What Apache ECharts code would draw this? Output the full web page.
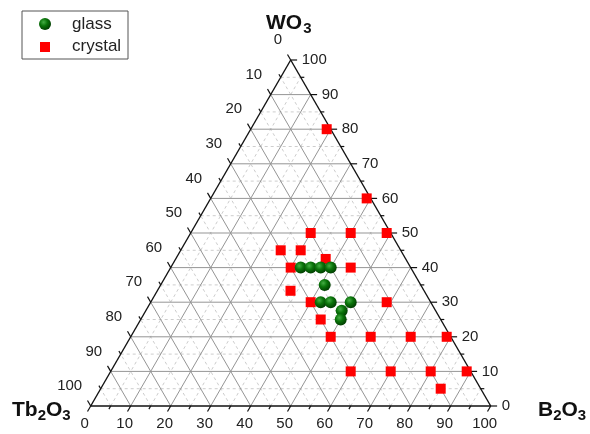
<!DOCTYPE html>
<html><head><meta charset="utf-8">
<script src="https://cdn.jsdelivr.net/npm/echarts@6/dist/echarts.min.js"></script>
<style>html,body{margin:0;padding:0;background:#fff}#c{width:590px;height:434px}</style>
</head><body><div id="c"></div>
<script>
// Ternary axis ticks (percent)
const tickValues = [0, 10, 20, 30, 40, 50, 60, 70, 80, 90, 100];
const minorValues = [5, 15, 25, 35, 45, 55, 65, 75, 85, 95];
// Compositions (mol%): B2O3 and WO3; Tb2O3 = 100 - B2O3 - WO3
const glassB2O3 = [32.5, 35, 37.5, 40, 41, 42.5, 45, 50, 49, 50];
const glassWO3  = [40,   40, 40,   40, 35, 30,   30, 30, 27.5, 25];
const crystalB2O3 = [19, 39, 30, 40, 49, 25, 30, 37.5, 30, 45, 33.3, 40, 59, 45, 50, 60, 70, 79, 60, 70, 80, 89, 85];
const crystalWO3  = [80, 60, 50, 50, 50, 45, 45, 42.5, 40, 40, 33.3, 30, 30, 25, 20, 20, 20, 20, 10, 10, 10, 10, 5];

// ternary (B2O3, WO3) -> cartesian data coordinates
function tern(b, w) { return [b + w / 2, w]; }

const FONT = 'Arial, "Liberation Sans", sans-serif';
const majorStyle = { stroke: '#959595', lineWidth: 1 };
const minorStyle = { stroke: '#cdcdcd', lineWidth: 1, lineDash: [3, 3] };
const edgeStyle = { stroke: '#111', lineWidth: 1.4 };
const tickStyle = { stroke: '#111', lineWidth: 1.2 };

function renderFrame(params, api) {
  const c = (b, w) => api.coord(tern(b, w));
  const ch = [];
  const seg = (p, q, style) => ch.push({ type: 'line', shape: { x1: p[0], y1: p[1], x2: q[0], y2: q[1] }, style: style });
  const txt = (p, dx, dy, s, align) => ch.push({ type: 'text', style: { x: p[0] + dx, y: p[1] + dy, text: String(s), font: '15px ' + FONT, fill: '#222', align: align, verticalAlign: 'middle' } });
  minorValues.forEach(k => {
    seg(c(0, k), c(100 - k, k), minorStyle);
    seg(c(k, 0), c(k, 100 - k), minorStyle);
    seg(c(100 - k, 0), c(0, 100 - k), minorStyle);
  });
  tickValues.filter(k => k > 0 && k < 100).forEach(k => {
    seg(c(0, k), c(100 - k, k), majorStyle);
    seg(c(k, 0), c(k, 100 - k), majorStyle);
    seg(c(100 - k, 0), c(0, 100 - k), majorStyle);
  });
  seg(c(0, 0), c(100, 0), edgeStyle);
  seg(c(100, 0), c(0, 100), edgeStyle);
  seg(c(0, 100), c(0, 0), edgeStyle);
  const addTicks = (k, d) => {
    seg(c(k, 0), c(k, -d), tickStyle);                       // B2O3 (bottom)
    seg(c(100 - k, k), c(100 - k + d, k), tickStyle);        // WO3 (right)
    seg(c(0, 100 - k), c(-d, 100 - k + d), tickStyle);       // Tb2O3 (left)
  };
  tickValues.forEach(k => addTicks(k, 1.6));
  minorValues.forEach(k => addTicks(k, 0.9));
  tickValues.forEach(k => {
    txt(c(k, 0), -6, 18, k, 'center');
    txt(c(100 - k, k), 11, 0, k, 'left');
    txt(c(0, 100 - k), -8.5, -20, k, 'right');
  });
  return { type: 'group', children: ch };
}

const glassData = glassB2O3.map((b, i) => tern(b, glassWO3[i]));
const crystalData = crystalB2O3.map((b, i) => tern(b, crystalWO3[i]));

const sphere = {
  type: 'radial', x: 0.38, y: 0.35, r: 0.7,
  colorStops: [{ offset: 0, color: '#45ad45' }, { offset: 0.45, color: '#0a740a' }, { offset: 1, color: '#003800' }]
};

const chart = echarts.init(document.getElementById('c'), null, { renderer: 'canvas' });
chart.setOption({
  animation: false,
  backgroundColor: '#fff',
  grid: { left: 90.7, top: 60, width: 400, height: 346 },
  xAxis: { type: 'value', min: 0, max: 100, show: false },
  yAxis: { type: 'value', min: 0, max: 100, show: false },
  series: [
    { type: 'custom', name: 'frame', renderItem: renderFrame, data: [[0, 0]], clip: false, silent: true, z: 1 },
    { type: 'scatter', name: 'crystal', data: crystalData, symbol: 'rect', symbolSize: 10, itemStyle: { color: '#ff0000', opacity: 1 }, clip: false, z: 3 },
    { type: 'scatter', name: 'glass', data: glassData, symbol: 'circle', symbolSize: 12, itemStyle: { color: sphere, opacity: 1 }, clip: false, z: 4 }
  ],
  graphic: [
    { type: 'rect', shape: { x: 22, y: 11, width: 106, height: 48 }, style: { fill: '#fff', stroke: '#555', lineWidth: 1 }, z: 10 },
    { type: 'circle', shape: { cx: 45, cy: 24, r: 6 }, style: { fill: sphere }, z: 11 },
    { type: 'rect', shape: { x: 40, y: 42, width: 10, height: 10 }, style: { fill: '#ff0000' }, z: 11 },
    { type: 'text', style: { x: 72, y: 24, text: 'glass', font: '17px ' + FONT, fill: '#222', verticalAlign: 'middle' }, z: 11 },
    { type: 'text', style: { x: 72, y: 46.5, text: 'crystal', font: '17px ' + FONT, fill: '#222', verticalAlign: 'middle' }, z: 11 },
    { type: 'text', style: { x: 266, y: 23, text: '{m|WO}{s|3}', verticalAlign: 'middle', rich: { m: { font: 'bold 21px ' + FONT, fill: '#111' }, s: { font: 'bold 15px ' + FONT, fill: '#111', padding: [12, 0, 0, 1] } } } },
    { type: 'text', style: { x: 12, y: 410, text: '{m|Tb}{s|2}{m|O}{s|3}', verticalAlign: 'middle', rich: { m: { font: 'bold 21px ' + FONT, fill: '#111' }, s: { font: 'bold 15px ' + FONT, fill: '#111', padding: [12, 0, 0, 0] } } } },
    { type: 'text', style: { x: 538, y: 410, text: '{m|B}{s|2}{m|O}{s|3}', verticalAlign: 'middle', rich: { m: { font: 'bold 21px ' + FONT, fill: '#111' }, s: { font: 'bold 15px ' + FONT, fill: '#111', padding: [12, 0, 0, 0] } } } }
  ]
});
</script></body></html>
